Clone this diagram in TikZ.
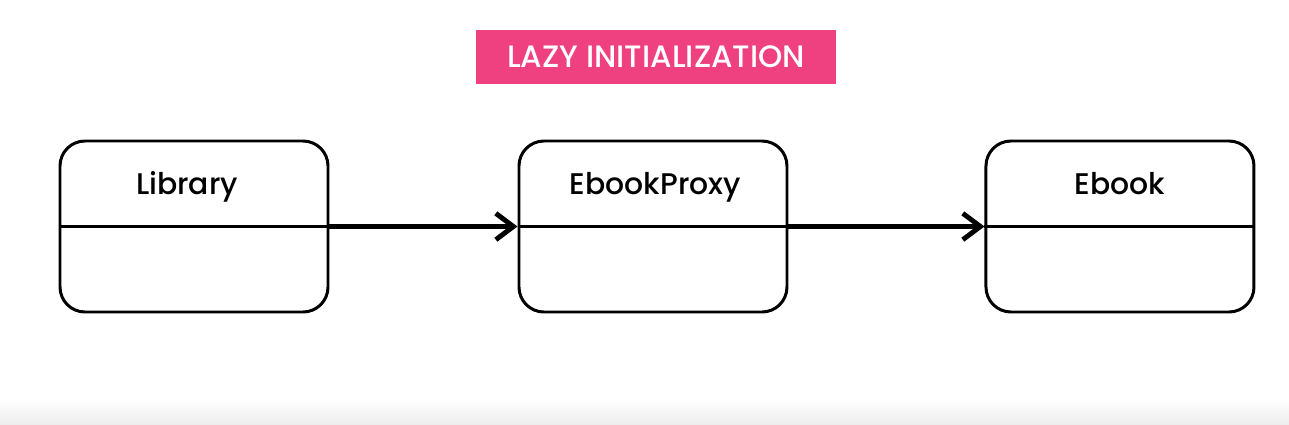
\documentclass[tikz,border=0pt]{standalone}
\usepackage{fontspec}
\setmainfont{Poppins}[UprightFont=*-Medium]
\usetikzlibrary{positioning, arrows.meta}

\definecolor{lazypink}{RGB}{239,64,128}

\begin{document}
\begin{tikzpicture}[
    classbox/.style={draw, line width=1.7pt, rounded corners=0.5cm,
      minimum width=5.36cm, minimum height=3.42cm},
    classname/.style={anchor=base, font=\fontsize{17}{20}\selectfont},
    link/.style={line width=2.8pt, -{Straight Barb[length=10pt, width=15pt]}}
  ]

  % Define canvas
  \def\w{25.78}
  \def\h{8.48}
  \useasboundingbox (0,0) rectangle (\w,\h);
  \fill[white] (0,0) rectangle (\w,\h);
  \shade[top color=white, bottom color=black!7] (0,0) rectangle (\w,0.48);

  % Title
  \node[fill=lazypink, text=white, minimum width=7.2cm, minimum height=1.08cm,
    font=\fontsize{17.6}{20}\selectfont] (title) at (13.12,7.34) {LAZY INITIALIZATION};

  % Classes
  \node[classbox] (library) at (3.88,3.95) {};
  \node[classbox, right=3.76cm of library] (proxy) {};
  \node[classbox, right=3.92cm of proxy] (ebook) {};

  % Compartments and names
  \foreach \c/\t/\dx in {library/Library/-0.14, proxy/EbookProxy/0.05, ebook/Ebook/0} {
    \draw[line width=1.7pt] (\c.west) -- (\c.east);
    \node[classname] (\c-name) at ([xshift=\dx cm, yshift=0.65cm]\c.center) {\t};
  }

  % Links
  \draw[link] (library.east) -- (proxy.west);
  \draw[link] (proxy.east) -- (ebook.west);

\end{tikzpicture}
\end{document}
